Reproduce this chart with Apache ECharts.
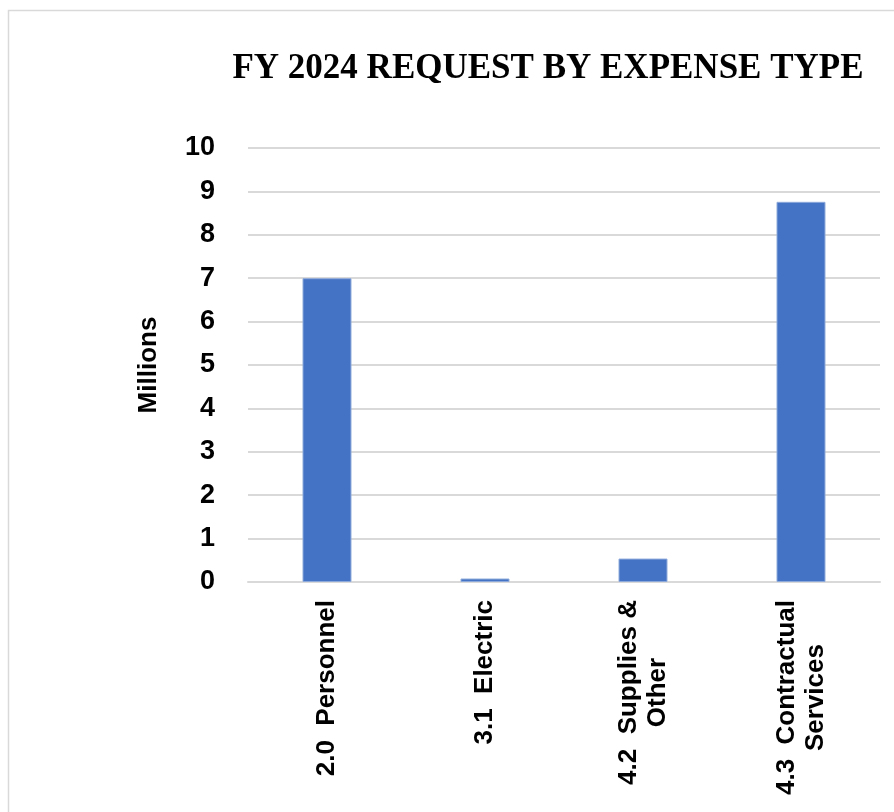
<!DOCTYPE html>
<html>
<head>
<meta charset="utf-8">
<style>
  html, body { margin: 0; padding: 0; background: #ffffff; }
  #chart { width: 894px; height: 812px; }
</style>
<script src="https://cdn.jsdelivr.net/npm/echarts@6/dist/echarts.min.js"></script>
</head>
<body>
<div id="chart"></div>
<script>
// Expense categories and requested amounts (millions of dollars)
const categories = ['2.0  Personnel', '3.1  Electric', '4.2  Supplies &\nOther', '4.3  Contractual\nServices'];
const requestMillions = [7.00, 0.08, 0.54, 8.76];
const yTicks = [0, 1, 2, 3, 4, 5, 6, 7, 8, 9, 10];

const chart = echarts.init(document.getElementById('chart'), null, { renderer: 'canvas' });

const labelFont = '"Liberation Sans", Arial, sans-serif';

chart.setOption({
  animation: false,
  backgroundColor: '#ffffff',
  graphic: [
    {
      type: 'rect',
      shape: { x: 8.5, y: 10.5, width: 1000, height: 1000 },
      style: { fill: 'none', stroke: '#d9d9d9', lineWidth: 1.5 },
      silent: true
    },
    {
      type: 'text',
      x: 548,
      y: 69,
      style: {
        text: 'FY 2024 REQUEST BY EXPENSE TYPE',
        font: 'bold 35px "Liberation Serif", "Times New Roman", serif',
        fill: '#000000',
        align: 'center',
        verticalAlign: 'middle'
      }
    }
  ],
  grid: { left: 248, right: 14, top: 148, bottom: 230 },
  xAxis: {
    type: 'category',
    data: categories,
    axisTick: { show: false },
    axisLine: { show: true, lineStyle: { color: '#d9d9d9', width: 2 } },
    axisLabel: {
      rotate: 90,
      margin: 18,
      interval: 0,
      color: '#000000',
      fontFamily: labelFont,
      fontWeight: 'bold',
      fontSize: 26,
      lineHeight: 29,
      formatter: function (v) {
        return v.split('\n').map(function (s) { return '{c|' + s + '}'; }).join('\n');
      },
      rich: {
        c: {
          align: 'center',
          color: '#000000',
          fontFamily: labelFont,
          fontWeight: 'bold',
          fontSize: 26,
          lineHeight: 29
        }
      }
    }
  },
  yAxis: {
    type: 'value',
    min: yTicks[0],
    max: yTicks[yTicks.length - 1],
    interval: 1,
    name: 'Millions',
    nameLocation: 'middle',
    nameGap: 86,
    nameRotate: 90,
    nameTextStyle: {
      color: '#000000',
      fontFamily: labelFont,
      fontWeight: 'bold',
      fontSize: 26
    },
    axisLine: { show: false },
    axisTick: { show: false },
    axisLabel: {
      margin: 33,
      color: '#000000',
      fontFamily: labelFont,
      fontWeight: 'bold',
      fontSize: 27
    },
    splitLine: { lineStyle: { color: '#d9d9d9', width: 2 } }
  },
  series: [
    {
      type: 'bar',
      data: requestMillions,
      barWidth: '31%',
      itemStyle: {
        color: '#4472c4',
        borderColor: '#8eaadb',
        borderWidth: 1
      }
    }
  ]
});
</script>
</body>
</html>
